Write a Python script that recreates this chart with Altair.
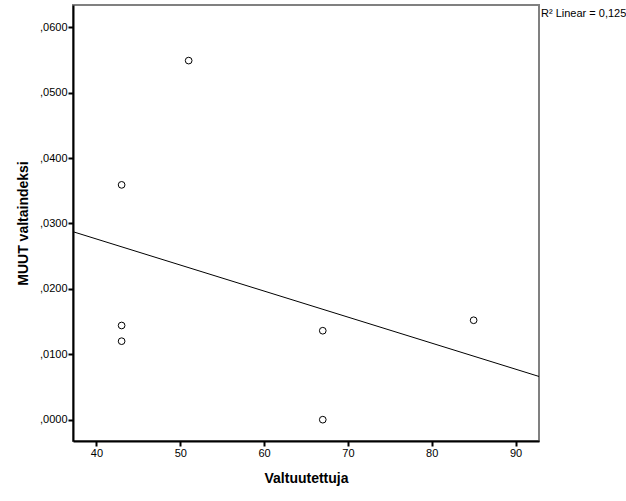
import altair as alt
import pandas as pd

valtuutettuja = [43, 51, 43, 43, 67, 67, 85]
muut_valtaindeksi = [0.0359, 0.0549, 0.0144, 0.0120, 0.0136, 0.0000, 0.0152]
x_ticks = [40, 50, 60, 70, 80, 90]
y_ticks = [0.0, 0.01, 0.02, 0.03, 0.04, 0.05, 0.06]
x_domain = [37.2, 92.8]
y_domain = [-0.00326, 0.0634]
r2_label = "R² Linear = 0,125"

df = pd.DataFrame({"Valtuutettuja": valtuutettuja, "MUUT valtaindeksi": muut_valtaindeksi})

FONT = "Liberation Sans"

x_enc = alt.X(
    "Valtuutettuja:Q",
    scale=alt.Scale(domain=x_domain, nice=False, zero=False),
    axis=alt.Axis(values=x_ticks, title="Valtuutettuja", grid=False, format="d"),
)
y_enc = alt.Y(
    "MUUT valtaindeksi:Q",
    scale=alt.Scale(domain=y_domain, nice=False, zero=False),
    axis=alt.Axis(
        values=y_ticks,
        title="MUUT valtaindeksi",
        grid=False,
        labelExpr="replace(format(datum.value, '.4f'), '0.', ',')",
    ),
)

base = alt.Chart(df)

points = base.mark_point(shape="circle", filled=False, color="black", size=45, strokeWidth=1, opacity=1).encode(
    x=x_enc, y=y_enc
)

line = base.transform_regression(
    "Valtuutettuja", "MUUT valtaindeksi", extent=x_domain
).mark_line(color="black", strokeWidth=1).encode(x=x_enc, y=y_enc)

label = alt.Chart(pd.DataFrame({"t": [r2_label]})).mark_text(
    align="left", baseline="middle", font=FONT, fontSize=11, color="black", clip=False
).encode(text="t:N", x=alt.value(468), y=alt.value(9))

chart = (
    alt.layer(line, points, label)
    .properties(
        width=466,
        height=436,
        autosize=alt.AutoSizeParams(type="none"),
        padding={"left": 73, "top": 5, "right": 87, "bottom": 60},
        background="white",
    )
    .configure_view(stroke="#808080", strokeWidth=2)
    .configure_axis(
        domainColor="black",
        domainWidth=2,
        tickColor="black",
        tickSize=5,
        tickWidth=2,
        labelFont=FONT,
        labelFontSize=11,
        labelColor="black",
        labelPadding=1,
        titleFont=FONT,
        titleFontSize=14,
        titleFontWeight="bold",
        titleColor="black",
    )
    .configure_axisX(titlePadding=13)
    .configure_axisY(titlePadding=9)
)

chart.save("out.html", embed_options={"renderer": "svg", "actions": False})
